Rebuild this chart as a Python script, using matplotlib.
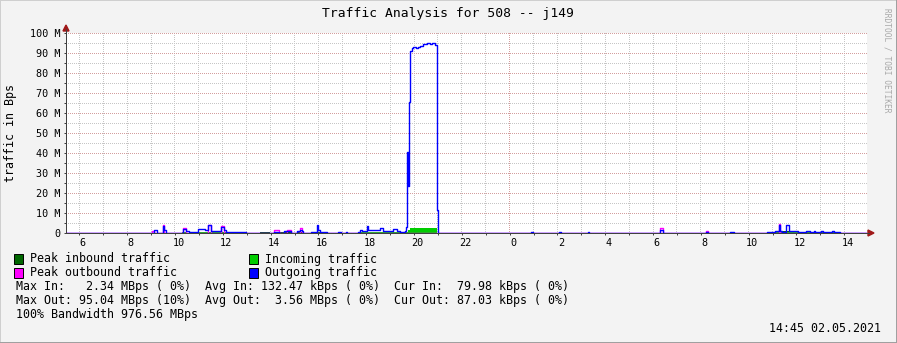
import numpy as np
import matplotlib
matplotlib.use("Agg")
import matplotlib.pyplot as plt
from matplotlib.patches import Rectangle, Polygon
from matplotlib.lines import Line2D
from matplotlib.transforms import ScaledTranslation

# time in hours since midnight of day 1 (24 = midnight of day 2), values in MBps
t_out = [5.44, 9.12, 9.23, 9.48, 9.56, 9.62, 10.32, 10.46, 10.58, 10.76, 10.97, 11.25,
         11.38, 11.51, 11.92, 12.05, 12.13, 12.97, 13.56, 13.97, 14.15, 14.35, 14.56,
         14.85, 15.09, 15.23, 15.31, 15.37, 15.69, 15.92, 15.99, 16.07, 16.34, 16.83,
         16.94, 17.15, 17.21, 17.67, 17.74, 17.81, 18.02, 18.08, 18.37, 18.58, 18.71,
         19.13, 19.27, 19.41, 19.62, 19.66, 19.71, 19.75, 19.80, 19.83, 19.92, 19.96,
         20.08, 20.17, 20.25, 20.38, 20.54, 20.67, 20.75, 20.88, 20.95, 20.98, 21.00,
         24.89, 24.98, 26.07, 26.13, 27.26, 27.32, 30.29, 30.40, 32.22, 32.30, 33.22,
         33.39, 34.77, 35.10, 35.25, 35.31, 35.40, 35.58, 35.67, 36.07, 36.40, 36.57,
         36.74, 36.78, 37.03, 37.10, 37.47, 37.57, 37.82, 38.95]
v_out = [0, 1.3, 0, 3.3, 1.3, 0, 2.0, 0.8, 0.3, 0.7, 2.0, 1.3,
         3.8, 1.2, 3.0, 1.5, 0.5, 0, 0.2, 0, 0.5, 0, 0.8,
         0, 1.0, 1.5, 1.0, 0, 0.7, 4.2, 1.5, 0.5, 0, 0.5,
         0, 0.3, 0, 0.7, 1.3, 0.8, 3.3, 1.7, 1.3, 2.5, 1.2,
         2.2, 1.2, 0.3, 1.0, 3.0, 40.5, 23.5, 65.6, 90.8, 92.5, 93.0,
         92.5, 93.0, 93.6, 94.5, 95.0, 94.5, 95.0, 94.2, 67.7, 11.5, 0,
         0.5, 0, 0.4, 0, 0.4, 0, 1.5, 0, 0.7, 0, 0.4,
         0, 0.4, 1.2, 3.8, 0.8, 0.5, 4.0, 1.2, 0.5, 1.2, 0.5,
         1.0, 0.5, 1.0, 0.5, 1.0, 0.5, 0, 0]

t_peak_out = [5.44, 9.05, 9.12, 9.48, 9.56, 10.32, 10.46, 11.38, 11.51, 11.92, 12.05,
              14.15, 14.35, 14.69, 14.85, 15.23, 15.31, 30.29, 30.40, 32.22, 32.30,
              35.25, 35.31, 38.95]
v_peak_out = [0, 0.8, 0, 4.2, 0, 2.5, 0, 4.2, 0, 3.3, 0,
              1.3, 0, 1.6, 0, 2.5, 0, 2.5, 0, 0.8, 0,
              4.6, 0, 0]

t_in = [5.44, 10.30, 10.46, 10.76, 12.97, 13.56, 13.97, 14.15, 14.85, 15.09, 15.37,
        15.69, 16.34, 17.67, 19.62, 19.66, 19.75, 19.83, 20.98, 34.77, 35.25, 35.67,
        37.82, 38.95]
v_in = [0, 0.3, 0, 0.3, 0, 0.2, 0, 0.2, 0, 0.2, 0,
        0.2, 0, 0.3, 0.3, 0.6, 1.5, 2.3, 0, 0.3, 0.7, 0.3,
        0, 0]
v_peak_in = [0, 0.4, 0, 0.4, 0, 0.3, 0, 0.3, 0, 0.3, 0,
             0.3, 0, 0.4, 0.4, 0.7, 1.6, 2.5, 0, 0.4, 0.9, 0.4,
             0, 0]

x_tick_hours = [6, 8, 10, 12, 14, 16, 18, 20, 22, 24, 26, 28, 30, 32, 34, 36, 38]
x_tick_labels = ["6", "8", "10", "12", "14", "16", "18", "20", "22",
                 "0", "2", "4", "6", "8", "10", "12", "14"]
y_ticks = [0, 10, 20, 30, 40, 50, 60, 70, 80, 90, 100]
y_tick_labels = ["0", "10 M", "20 M", "30 M", "40 M", "50 M",
                 "60 M", "70 M", "80 M", "90 M", "100 M"]

legend_names = ["Peak inbound traffic", "Incoming traffic",
                "Peak outbound traffic", "Outgoing traffic"]
legend_colors = ["#006600", "#00CC00", "#FF00FF", "#0000FF"]
stats_lines = [
    "Max In:   2.34 MBps ( 0%)  Avg In: 132.47 kBps ( 0%)  Cur In:  79.98 kBps ( 0%)",
    "Max Out: 95.04 MBps (10%)  Avg Out:  3.56 MBps ( 0%)  Cur Out: 87.03 kBps ( 0%)",
    "100% Bandwidth 976.56 MBps",
]

W, H = 897, 343
MONO = "DejaVu Sans Mono"

fig = plt.figure(figsize=(W / 100, H / 100), dpi=100)
fig.patch.set_facecolor("#F3F3F3")


def fx(px):
    return px / W


def fy(py):
    return 1 - py / H


left, right, top, bottom = 66, 867, 33, 233
ax = fig.add_axes([fx(left), fy(bottom), fx(right - left), (bottom - top) / H])
ax.patch.set_alpha(0)
ax.set_xlim(5.44, 38.95)
ax.set_ylim(0, 100)

# pixel-exact dotted grid (rrdtool style) painted as a figure image behind the axes
grid = np.zeros((H, W, 4))
grid[top:bottom, left:right] = [1, 1, 1, 1]
minor_rgb = np.array([0.78, 0.78, 0.78, 1])
major_rgb = np.array([0.83, 0.62, 0.62, 1])


def col_of(h):
    return int(ax.transData.transform((h, 0))[0])


def row_of(v):
    return int(round(H - ax.transData.transform((0, v))[1]))


for h in range(6, 39):
    c = col_of(h)
    grid[top:bottom:2, c] = major_rgb if h == 24 else minor_rgb
for v in range(5, 101, 5):
    r = min(row_of(v), bottom - 1)
    grid[r, left:right:2] = major_rgb if v % 10 == 0 else minor_rgb
fig.figimage(grid, xo=0, yo=0, origin="upper", zorder=-1)

# data
ax.fill_between(t_in, v_peak_in, step="post", color="#006600", lw=0, zorder=2)
ax.fill_between(t_in, v_in, step="post", color="#00CC00", lw=0, zorder=3)
ax.step(t_peak_out, v_peak_out, where="post", color="#FF00FF", lw=1.0, zorder=4)
ax.step(t_out, v_out, where="post", color="#0000FF", lw=1.0, zorder=5)

px = 0.72
for s in ["top", "right"]:
    ax.spines[s].set_visible(False)
for s in ["left", "bottom"]:
    ax.spines[s].set_color("#404040")
    ax.spines[s].set_linewidth(px)
    ax.spines[s].set_zorder(6)

ax.set_xticks(x_tick_hours)
ax.set_xticklabels(x_tick_labels, family=MONO, fontsize=7.3)
ax.set_xticks(range(6, 39), minor=True)
ax.set_yticks(y_ticks)
ax.set_yticklabels(y_tick_labels, family=MONO, fontsize=7.3)
ax.set_yticks(range(5, 100, 10), minor=True)
ax.tick_params(axis="both", which="both", length=1.5, width=px, color="#404040",
               direction="out", pad=2)
ax.tick_params(axis="y", pad=2.2)
# rrdtool draws the hour labels a few pixels right of the grid line
shift = ScaledTranslation(3.5 / 100, 0, fig.dpi_scale_trans)
for lab in ax.get_xticklabels():
    lab.set_transform(lab.get_transform() + shift)

# axis arrows
ax_col = "#A01818"
fig.add_artist(Line2D([fx(left), fx(left)], [fy(bottom), fy(29)], color="#404040",
                      lw=px, transform=fig.transFigure))
fig.add_artist(Line2D([fx(left), fx(869)], [fy(bottom), fy(bottom)], color="#404040",
                      lw=px, transform=fig.transFigure))
fig.add_artist(Polygon([[fx(63), fy(31)], [fx(69), fy(31)], [fx(66), fy(25)]],
                       closed=True, color=ax_col, transform=fig.transFigure))
fig.add_artist(Polygon([[fx(868), fy(230)], [fx(868), fy(236)], [fx(874), fy(233)]],
                       closed=True, color=ax_col, transform=fig.transFigure))

# titles
fig.text(fx(448), fy(14), "Traffic Analysis for 508 -- j149", family=MONO,
         fontsize=9.4, ha="center", va="center", color="black")
fig.text(fx(11), fy(133), "traffic in Bps", family=MONO, fontsize=8.4,
         rotation=90, ha="center", va="center", color="black")
fig.text(fx(887), fy(60), "RRDTOOL / TOBI OETIKER", family=MONO, fontsize=5.7,
         rotation=-90, ha="center", va="center", color="#A8A8A8")

# legend
leg_pos = [(14, 259), (249, 259), (14, 272.5), (249, 272.5)]
for (lx, ly), name, col in zip(leg_pos, legend_names, legend_colors):
    fig.add_artist(Rectangle((fx(lx), fy(ly + 5)), 9 / W, 10 / H, facecolor=col,
                             edgecolor="black", lw=0.7, transform=fig.transFigure))
    fig.text(fx(lx + 16), fy(ly), name, family=MONO, fontsize=8.4,
             ha="left", va="center", color="black")
for i, line in enumerate(stats_lines):
    fig.text(fx(16), fy(286.5 + 14 * i), line, family=MONO, fontsize=8.4,
             ha="left", va="center", color="black")
fig.text(fx(881), fy(329), "14:45 02.05.2021", family=MONO, fontsize=8.4,
         ha="right", va="center", color="black")

# 3d frame
fig.add_artist(Line2D([0, 0, 1], [0, 1, 1], color="#CFCFCF", lw=1.4,
                      transform=fig.transFigure))
fig.add_artist(Line2D([fx(1), 1 - 0.5 / W, 1 - 0.5 / W], [0.5 / H, 0.5 / H, 1],
                      color="#9E9E9E", lw=1.4, transform=fig.transFigure))

fig.savefig("out.png", dpi=100, facecolor=fig.get_facecolor())
